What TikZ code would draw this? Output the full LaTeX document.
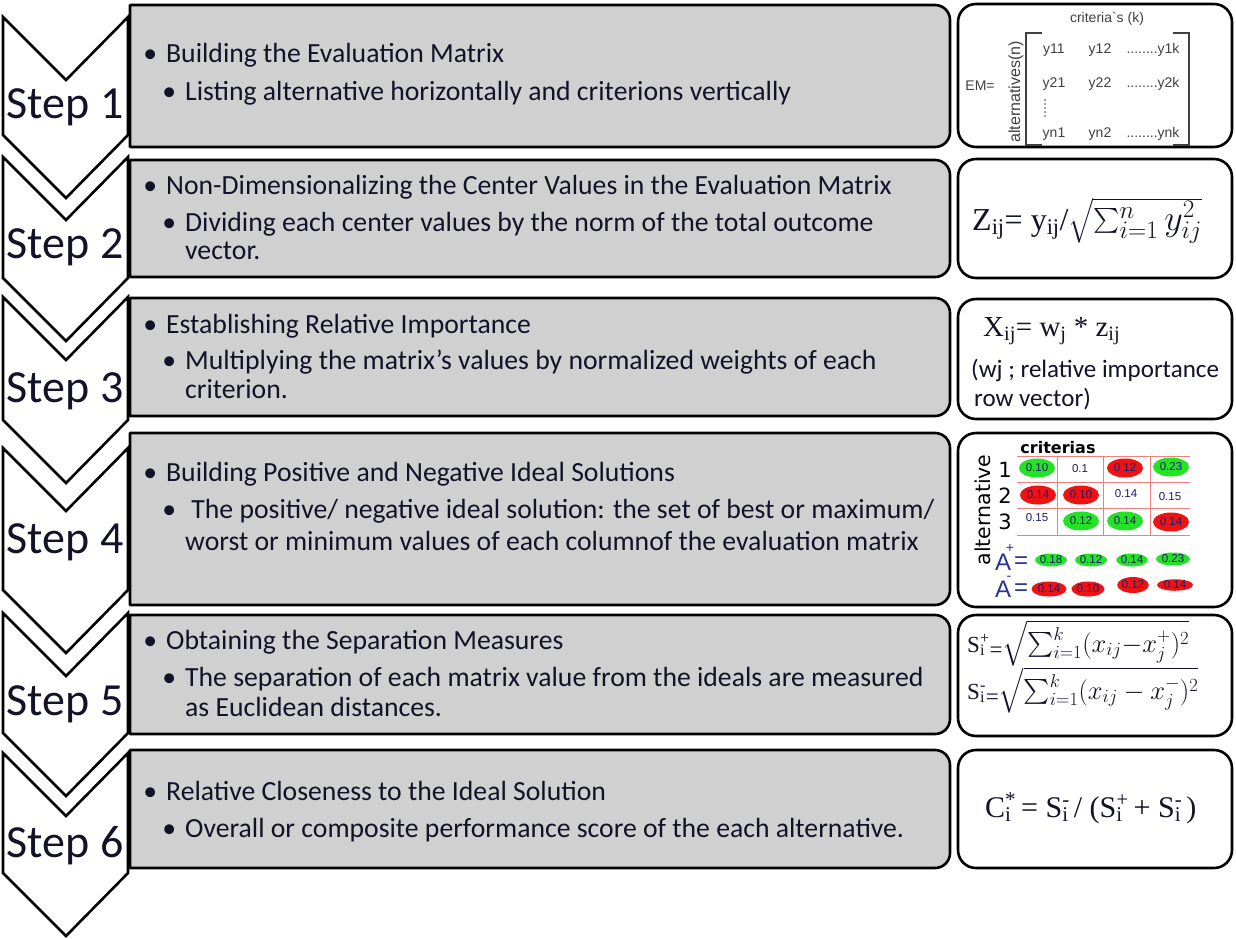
\RequirePackage{fix-cm}
\documentclass[tikz,border=0pt]{standalone}
\usepackage{exscale}
\usepackage{fontspec}
\setmainfont{Carlito}
\newfontfamily\serifTNR{Liberation Serif}
\newfontfamily\sansAR{Liberation Sans}
\newfontfamily\sansDV{DejaVu Sans}
\usetikzlibrary{shapes.geometric}

\definecolor{boxgray}{RGB}{208,208,208}
\definecolor{inktext}{RGB}{18,18,40}
\definecolor{cellgreen}{RGB}{36,226,36}
\definecolor{cellred}{RGB}{238,18,18}
\definecolor{gridred}{RGB}{240,128,128}
\definecolor{numnavy}{RGB}{28,28,110}
\definecolor{ablue}{RGB}{40,52,150}
\definecolor{emgray}{RGB}{64,64,64}

% stacked sub/superscript pair
\newcommand\subsupstack[2]{\rlap{\textsubscript{#1}}\textsuperscript{#2}}
% bullet hung to the left of an item
\newcommand\itembullet{\llap{\textbullet\hspace{9pt}}}

\tikzset{
  outline/.style={draw=black, line width=2.6pt},
  chevron/.style={outline, fill=white, line join=miter},
  stepbox/.style={outline, fill=boxgray, line join=round},
  notebox/.style={outline, fill=white, rounded corners=18pt},
  steplabel/.style={anchor=base, inner sep=0pt, text=inktext, font=\fontsize{46}{50}\selectfont},
  itemtext/.style={anchor=base west, inner sep=0pt, text=inktext, font=\fontsize{27.7}{30}\selectfont},
  notetext/.style={anchor=base west, inner sep=0pt, text=inktext, font=\fontsize{25}{28}\selectfont},
  formula/.style={anchor=base west, inner sep=0pt, text=inktext},
  emtext/.style={anchor=base, inner sep=0pt, text=emgray, font=\sansAR\fontsize{14}{16}\selectfont},
  bracketline/.style={draw=emgray, line width=1.3pt},
  gridline/.style={draw=gridred, line width=1pt},
  cellnum/.style={ellipse, inner sep=0pt, minimum width=36pt, minimum height=19pt,
                  text=numnavy, font=\sansAR\fontsize{11.5}{12}\selectfont},
  gcell/.style={cellnum, fill=cellgreen},
  rcell/.style={cellnum, fill=cellred},
  pcell/.style={cellnum},
  rowlabel/.style={anchor=base, inner sep=0pt, font=\sansDV\fontsize{21}{22}\selectfont},
  asym/.style={anchor=base, inner sep=0pt, text=ablue, font=\sansAR\fontsize{24}{26}\selectfont},
  asign/.style={anchor=base, inner sep=0pt, text=ablue, font=\sansAR\fontsize{14}{16}\selectfont},
}

% downward chevron: top of side edges at #1, bottom of side edges at #2
\newcommand\chevronshape[2]{%
  \draw[chevron] (3,-#1) -- (66,{-#1-63}) -- (128,-#1) -- (128,-#2)
    -- (66,{-#2-63}) -- (3,-#2) -- cycle;}
% grey panel with square left corners and rounded right corners
\newcommand\graypanel[2]{%
  \draw[stepbox] (130,-#1) -- (935,-#1) arc[start angle=90,end angle=0,radius=15pt]
    -- (950,{-#2+15}) arc[start angle=0,end angle=-90,radius=15pt] -- (130,-#2) -- cycle;}

\begin{document}
\begin{tikzpicture}[x=1pt,y=1pt]
\useasboundingbox (0,0) rectangle (1236,-938);
\fill[white] (0,0) rectangle (1236,-938);

% ---- grey step panels ----
\graypanel{5}{147}
\graypanel{160}{277}
\graypanel{298}{416}
\graypanel{433}{605}
\graypanel{615}{734}
\graypanel{750}{868}

% ---- chevrons ----
\chevronshape{17}{135}
\chevronshape{157}{278}
\chevronshape{297}{420}
\chevronshape{448}{590}
\chevronshape{613}{733}
\chevronshape{753}{873}

\node[steplabel] (st1) at (65,-118) {Step 1};
\node[steplabel] (st2) at (65,-258) {Step 2};
\node[steplabel] (st3) at (65,-402) {Step 3};
\node[steplabel] (st4) at (65,-553) {Step 4};
\node[steplabel] (st5) at (65,-715) {Step 5};
\node[steplabel] (st6) at (65,-857) {Step 6};

% ---- step descriptions ----
\node[itemtext] (s1a) at (166,-62) {\itembullet Building the Evaluation Matrix};
\node[itemtext] (s1b) at (185,-100) {\itembullet Listing alternative horizontally and criterions vertically};

\node[itemtext] (s2a) at (166,-194) {\itembullet Non-Dimensionalizing the Center Values in the Evaluation Matrix};
\node[itemtext] (s2b) at (185,-231) {\itembullet Dividing each center values by the norm of the total outcome};
\node[itemtext] (s2c) at (185,-259) {vector.};

\node[itemtext] (s3a) at (166,-333) {\itembullet Establishing Relative Importance};
\node[itemtext] (s3b) at (185,-369) {\itembullet Multiplying the matrix’s values by normalized weights of each};
\node[itemtext] (s3c) at (185,-398) {criterion.};

\node[itemtext] (s4a) at (166,-481) {\itembullet Building Positive and Negative Ideal Solutions};
\node[itemtext] (s4b) at (185,-518) {\itembullet\ The positive/ negative ideal solution: the set of best or maximum/};
\node[itemtext] (s4c) at (185,-550) {worst or minimum values of each columnof the evaluation matrix};

\node[itemtext] (s5a) at (166,-649) {\itembullet Obtaining the Separation Measures};
\node[itemtext] (s5b) at (185,-686) {\itembullet The separation of each matrix value from the ideals are measured};
\node[itemtext] (s5c) at (185,-716) {as Euclidean distances.};

\node[itemtext] (s6a) at (166,-800) {\itembullet Relative Closeness to the Ideal Solution};
\node[itemtext] (s6b) at (185,-837) {\itembullet Overall or composite performance score of the each alternative.};

% ---- white note boxes ----
\draw[notebox] (958,-4) rectangle (1232,-147);
\draw[notebox] (958,-159) rectangle (1232,-278);
\draw[notebox] (958,-299) rectangle (1232,-419);
\draw[notebox] (958,-433) rectangle (1232,-607);
\draw[notebox] (958,-615) rectangle (1232,-736);
\draw[notebox] (958,-750) rectangle (1232,-868);

% box 1: evaluation matrix
\node[emtext] (crit1) at (1107,-22) {criteria\textasciigrave s (k)};
\node[emtext] (em) at (980,-90) {EM=};
\node[emtext, rotate=90, font=\sansAR\fontsize{16}{18}\selectfont] (altn) at (1020,-92) {alternatives(n)};
\draw[bracketline] (1042,-33) -- (1026,-33) -- (1026,-145) -- (1042,-145);
\draw[bracketline] (1173,-33) -- (1189,-33) -- (1189,-145) -- (1173,-145);
\node[emtext] (y11) at (1054,-53) {y11};
\node[emtext] (y12) at (1100,-53) {y12};
\node[emtext] (y1k) at (1153,-53) {........y1k};
\node[emtext] (y21) at (1054,-87) {y21};
\node[emtext] (y22) at (1100,-87) {y22};
\node[emtext] (y2k) at (1153,-87) {........y2k};
\node[emtext] (vdots) at (1045,-118) {\rotatebox{90}{.....}};
\node[emtext] (yn1) at (1054,-137) {yn1};
\node[emtext] (yn2) at (1100,-137) {yn2};
\node[emtext] (ynk) at (1153,-137) {........ynk};

% box 2: normalisation
\node[formula] (f2) at (972,-230)
  {\fontsize{32}{36}\selectfont\serifTNR Z\textsubscript{ij}= y\textsubscript{ij}/\fontsize{36}{40}\selectfont$\sqrt{\sum_{i=1}^{n} y_{ij}^{2}}$};

% box 3: weighting
\node[formula] (f3) at (983,-336)
  {\fontsize{29}{32}\selectfont\serifTNR X\textsubscript{ij}= w\textsubscript{j} * z\textsubscript{ij}};
\node[notetext] (f3b) at (971,-377) {(wj ; relative importance};
\node[notetext] (f3c) at (974,-406) {row vector)};

% box 4: ideal solutions
\node[anchor=base, rotate=90, inner sep=0pt, font=\sansDV\fontsize{20.5}{21}\selectfont] (altv) at (990,-510) {alternative};
\node[anchor=base, inner sep=0pt, font=\sansDV\bfseries\fontsize{16}{18}\selectfont] (crit4) at (1058,-453) {criterias};
\draw[gridline] (1017,-456) -- (1190,-456);
\draw[gridline] (1017,-482) -- (1190,-482);
\draw[gridline] (1017,-508) -- (1190,-508);
\draw[gridline] (1017,-535) -- (1190,-535);
\draw[gridline] (1057,-456) -- (1057,-535);
\draw[gridline] (1103,-456) -- (1103,-535);
\draw[gridline] (1150,-456) -- (1150,-535);
\node[rowlabel] (r1) at (1005,-477) {1};
\node[rowlabel] (r2) at (1005,-503) {2};
\node[rowlabel] (r3) at (1005,-529) {3};
\node[gcell] (c11) at (1037,-468) {0.10};
\node[pcell] (c12) at (1080,-469) {0.1};
\node[rcell] (c13) at (1125,-468) {0.12};
\node[gcell] (c14) at (1171,-467) {0.23};
\node[rcell] (c21) at (1038,-495) {0.14};
\node[rcell] (c22) at (1081,-495) {0.10};
\node[pcell] (c23) at (1126,-494) {0.14};
\node[pcell] (c24) at (1170,-497) {0.15};
\node[pcell] (c31) at (1037,-518) {0.15};
\node[gcell] (c32) at (1081,-521) {0.12};
\node[gcell] (c33) at (1125,-521) {0.14};
\node[rcell] (c34) at (1171,-522) {0.14};
\node[asym] (ap) at (1003,-570) {A};
\node[asign] (apsign) at (1010,-552) {+};
\node[asym] (apeq) at (1021,-568) {=};
\node[gcell, minimum width=32pt, minimum height=13pt] (p1) at (1051,-560) {0.18};
\node[gcell, minimum width=32pt, minimum height=13pt] (p2) at (1091,-560) {0.12};
\node[gcell, minimum width=30pt, minimum height=13pt] (p3) at (1132,-560) {0.14};
\node[gcell, minimum width=34pt, minimum height=13pt] (p4) at (1173,-559) {0.23};
\node[asym] (am) at (1003,-597) {A};
\node[asign] (amsign) at (1009,-580) {-};
\node[asym] (ameq) at (1021,-595) {=};
\node[rcell, minimum width=35pt, minimum height=15pt] (m1) at (1049,-589) {0.14};
\node[rcell, minimum width=33pt, minimum height=15pt] (m2) at (1088,-589) {0.10};
\node[rcell, minimum width=31pt, minimum height=16pt] (m3) at (1133,-585) {0.12};
\node[rcell, minimum width=36pt, minimum height=10pt] (m4) at (1175,-585) {0.14};

% box 5: separation measures
\node[formula] (f5a) at (967,-652)
  {\fontsize{23}{26}\selectfont\serifTNR S\subsupstack{i}{+}\raisebox{-5pt}{=}\fontsize{26.5}{28}\selectfont$\sqrt{\sum_{i=1}^{k}(x_{ij}\mathord{-}x_{j}^{+})^{2}}$};
\node[formula] (f5b) at (967,-699)
  {\fontsize{23}{26}\selectfont\serifTNR S\subsupstack{i}{-}\raisebox{-5pt}{=}\fontsize{26.5}{28}\selectfont$\sqrt{\sum_{i=1}^{k}(x_{ij}-x_{j}^{-})^{2}}$};

% box 6: relative closeness
\node[formula] (f6) at (985,-817)
  {\fontsize{30}{32}\selectfont\serifTNR C\subsupstack{i}{*}\hspace{5pt}= S\subsupstack{i}{-}\hspace{4pt}/ (S\subsupstack{i}{+}\hspace{5pt}+ S\subsupstack{i}{-}\hspace{4pt})};
\end{tikzpicture}
\end{document}
